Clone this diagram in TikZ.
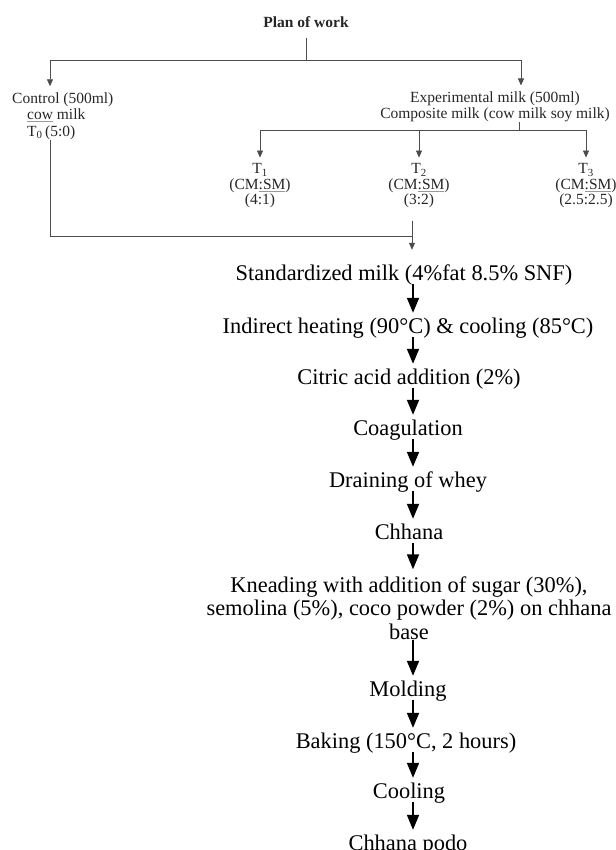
\documentclass[tikz,border=0pt]{standalone}
\usepackage{fontspec}
\setmainfont{Liberation Serif}
\usepackage{xcolor}
\usetikzlibrary{arrows.meta}
% light blue spell-check line under a word
\newcommand{\spellmark}[1]{\setbox0\hbox{#1}\rlap{\color{blue!45}\rule[-2.2pt]{\wd0}{0.7pt}}#1}

\begin{document}
\begin{tikzpicture}[x=1pt,y=-1pt,
  small/.style={font=\fontsize{15.5}{16.5}\selectfont,text=black!85,inner sep=0pt,align=center},
  ttext/.style={small,font=\fontsize{15.5}{15.5}\selectfont},
  flowtext/.style={font=\fontsize{22.4}{23.5}\selectfont,inner sep=0pt,text height=20.5pt,text depth=3.5pt},
  flowblock/.style={font=\fontsize{22.4}{23.5}\selectfont,inner sep=0pt,align=center},
  thinline/.style={draw=black!70,line width=0.8pt},
  thinarrow/.style={thinline,-{Triangle[width=6pt,length=7pt]}},
  flowarrow/.style={line width=1.8pt,-{Triangle[width=12pt,length=15pt]}}]
\useasboundingbox (0,0) rectangle (615,850);
%% plan of work
\node[small,font=\fontsize{15.5}{16}\selectfont\bfseries] (plan) at (306,22) {Plan of work};
\node[small,align=left,anchor=west] (ctrl) at (12,116) {Control (500ml)\\ \hspace*{15pt}\spellmark{cow} milk\\ \hspace*{15pt}T\textsubscript{0}\,(5:0)};
\node[small] (exp) at (495,107) {Experimental milk (500ml)\\Composite milk (cow milk soy milk)};
\node[ttext] (t1) at (260,186) {T\textsubscript{1}\\(CM\spellmark{:SM})\\(4:1)};
\node[ttext] (t2) at (419,186) {T\textsubscript{2}\\(CM\spellmark{:SM})\\(3:2)};
\node[ttext] (t3) at (586,186) {T\textsubscript{3}\\(CM\spellmark{:SM})\\(2.5:2.5)};
\coordinate (split) at (306,60);
\coordinate (ctrlin) at (50,60);
\coordinate (expin) at (521,60);
\coordinate (tsplit) at (519,130);
\coordinate (t1in) at (260,130);
\coordinate (t2in) at (419,130);
\coordinate (t3in) at (586,130);
\coordinate (merge) at (412,236);
\draw[thinline] ([yshift=-10pt]plan.south) -- (split);
\draw[thinline] (ctrlin) -- (expin);
\draw[thinarrow] (ctrlin) -- ([yshift=6pt]ctrl.north -| ctrlin);
\draw[thinarrow] (expin) -- ([yshift=6pt]exp.north -| expin);
\draw[thinline] (exp.south -| tsplit) -- (tsplit);
\draw[thinline] (t1in) -- (t3in);
\foreach \t in {t1,t2,t3}
  \draw[thinarrow] (\t in) -- ([yshift=6pt]\t.north);
%% both lines meet
\draw[thinline] (ctrl.south -| ctrlin) |- (merge);
\draw[thinline] ([yshift=-13pt]t2.south -| merge) -- (merge);
%% process
\node[flowtext] (std) at (404,272) {Standardized milk (4\%fat 8.5\% SNF)};
\node[flowtext] (heat) at (408,325) {Indirect heating (90°C) \& cooling (85°C)};
\node[flowtext] (citric) at (409,376) {Citric acid addition (2\%)};
\node[flowtext] (coag) at (408,427) {Coagulation};
\node[flowtext] (drain) at (408,479) {Draining of whey};
\node[flowtext] (chhana) at (409,531) {Chhana};
\node[flowblock] (knead) at (409,608) {Kneading with addition of sugar (30\%),\\semolina (5\%), coco powder (2\%) on chhana\\base};
\node[flowtext] (mold) at (408,688) {Molding};
\node[flowtext] (bake) at (406,740) {Baking (150°C, 2 hours)};
\node[flowtext] (cool) at (409,790) {Cooling};
\node[flowtext] (podo) at (408,842) {Chhana podo};
\coordinate (axis) at (413,0);
\draw[thinarrow] (merge) -- ([yshift=10pt]std.north -| merge);
\foreach \a/\b in {std/heat,heat/citric,citric/coag,coag/drain,drain/chhana,knead/mold,mold/bake,bake/cool,cool/podo}
  \draw[flowarrow] (\a.south -| axis) -- (\b.north -| axis);
\draw[flowarrow] (chhana.south -| axis) -- ([yshift=7pt]knead.north -| axis);
\end{tikzpicture}
\end{document}
